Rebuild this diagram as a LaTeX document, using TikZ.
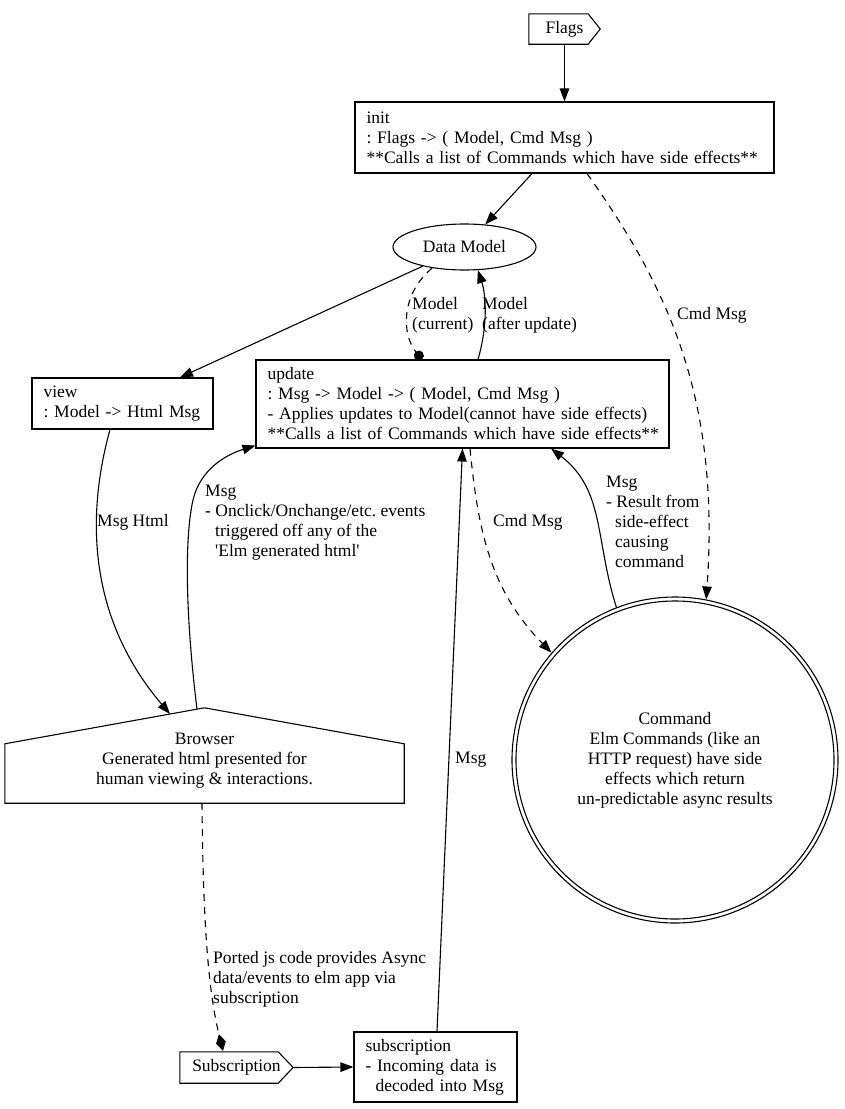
\documentclass[tikz,border=0pt]{standalone}
\usepackage{fontspec}
\setmainfont{Liberation Serif}
\usetikzlibrary{arrows.meta,shapes.geometric,calc}
\frenchspacing
\begin{document}
\begin{tikzpicture}[x=1pt,y=-1pt,
  every node/.style={font=\fontsize{17.5}{20}\selectfont\frenchspacing},
  box/.style={draw, rectangle, line width=1.1pt, align=left, inner xsep=11.5pt, inner ysep=0pt},
  plain/.style={rectangle, inner sep=0pt},
  lbl/.style={inner sep=0pt, align=left, anchor=west},
  edge/.style={line width=1.1pt, -{Triangle[length=13pt,width=9.5pt]}},
  dashedge/.style={edge, dash pattern=on 7pt off 6pt},
  outline/.style={line width=1.1pt}]
\useasboundingbox (0,0) rectangle (844,1109);

% nodes
\node[plain, minimum width=71pt, minimum height=30pt] (flags) at (564.5,29) {Flags};
\draw[outline] (flags.north west) -- ([xshift=-12pt]flags.north east) -- (flags.east) -- ([xshift=-12pt]flags.south east) -- (flags.south west) -- cycle;

\node[box, minimum width=419pt, minimum height=71pt, text width=396pt] (init) at (564.5,137.5)
  {init\\\mbox{: Flags -> ( Model, Cmd Msg )}\\\mbox{**Calls a list of Commands which have side effects**}};

\node[ellipse, draw, line width=1.1pt, minimum width=143pt, minimum height=46pt, inner sep=0pt] (dm) at (464.5,247) {Data Model};

\node[box, minimum width=181pt, minimum height=51pt, text width=158pt] (view) at (122.5,403.5)
  {view\\\mbox{: Model -> Html Msg}};

\node[box, minimum width=413pt, minimum height=88pt, text width=390pt] (update) at (462.5,404)
  {update\\\mbox{: Msg -> Model -> ( Model, Cmd Msg )}\\\mbox{- Applies updates to Model(cannot have side effects)}\\\mbox{**Calls a list of Commands which have side effects**}};

\node[circle, draw, line width=1.1pt, minimum size=326pt, inner sep=0pt, align=center] (cmd) at (675,760)
  {Command\\Elm Commands (like an\\HTTP request) have side\\effects which return\\un-predictable async results};
\draw[outline] (cmd.center) circle[radius=159pt];

\node[plain, minimum width=399pt, minimum height=95pt] (browser) at (204.5,755.5) {};
\draw[outline] (browser.north) -- ([yshift=-36pt]browser.north east) -- (browser.south east) -- (browser.south west) -- ([yshift=-36pt]browser.north west) -- cycle;
\node[align=center, inner sep=0pt] (browsertext) at (204.5,761)
  {Browser\\Generated html presented for\\human viewing \& interactions.};

\node[plain, minimum width=113pt, minimum height=31pt] (subs) at (236.5,1067.5) {Subscription};
\draw[outline] (subs.north west) -- ([xshift=-15pt]subs.north east) -- (subs.east) -- ([xshift=-15pt]subs.south east) -- (subs.south west) -- cycle;

\node[box, minimum width=163pt, minimum height=70pt, text width=140pt] (subbox) at (435.5,1067)
  {subscription\\\mbox{- Incoming data is}\\\mbox{\hspace*{10pt}decoded into Msg}};

% connectors
\draw[edge] (flags.south) -- (init.north);
\draw[edge] ([xshift=-32.5pt]init.south) -- (dm);
\draw[dashedge] ([xshift=22.5pt]init.south) .. controls (670,290) and (720,400) .. (cmd.79);
\draw[edge] (dm) -- ([xshift=57.5pt]view.north);
\draw[line width=1.1pt, dash pattern=on 7pt off 6pt, -{Circle[length=10pt]}] (dm.213) .. controls (400,295) and (402,335) .. ([xshift=-40.5pt]update.north);
\draw[edge] ([xshift=15.5pt]update.north) .. controls (488,325) and (486,295) .. (dm.300);
\draw[edge] ([xshift=-12.5pt]view.south) .. controls (85,520) and (90,620) .. ([xshift=-34.5pt,yshift=-6.2pt]browser.north);
\draw[edge] ([xshift=-7.5pt,yshift=-1.35pt]browser.north) .. controls (186,620) and (184,540) .. (193,500) .. controls (200,470) and (225,455) .. ([yshift=3pt]update.south west);
\draw[line width=1.1pt, dash pattern=on 7pt off 6pt, -{Diamond[length=17pt,width=10pt]}] ([xshift=-2.5pt]browser.south) .. controls (203,920) and (208,990) .. ([xshift=-13.5pt,yshift=1pt]subs.north);
\draw[edge] (subs.east) -- (subbox.west);
\draw[edge] ([xshift=1.5pt]subbox.north) -- (update.south);
\draw[dashedge] ([xshift=7.5pt]update.south) .. controls (478,530) and (490,590) .. (cmd.139);
\draw[edge] (cmd.111) .. controls (595,540) and (605,490) .. ([xshift=88.5pt]update.south);

% labels
\node[lbl] (l1) at (677,315) {Cmd Msg};
\node[lbl] (l2) at (412,315) {Model\\(current)};
\node[lbl] (l3) at (482,315) {Model\\(after update)};
\node[lbl] (l4) at (97,522) {Msg Html};
\node[lbl] (l5) at (205,523) {Msg\\{}- Onclick/Onchange/etc. events\\\hspace*{10pt}triggered off any of the\\\hspace*{10pt}\textquotesingle Elm generated html\textquotesingle};
\node[lbl] (l6) at (213,979) {Ported js code provides Async\\data/events to elm app via\\subscription};
\node[lbl] (l7) at (455,760) {Msg};
\node[lbl] (l8) at (493,522) {Cmd Msg};
\node[lbl] (l9) at (606,522) {Msg\\{}- Result from\\\hspace*{9pt}side-effect\\\hspace*{9pt}causing\\\hspace*{9pt}command};
\end{tikzpicture}
\end{document}
